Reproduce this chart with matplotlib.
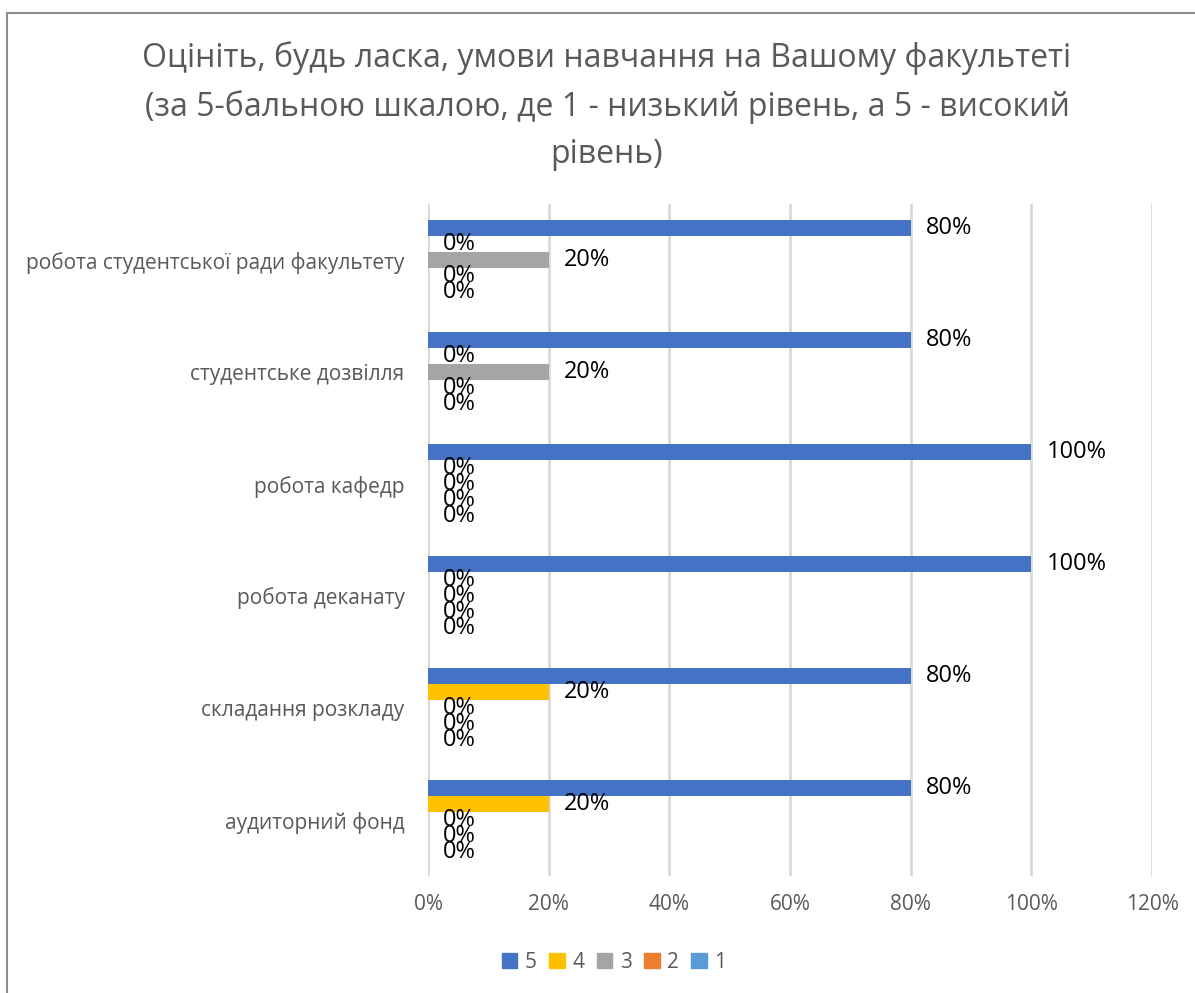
import numpy as np
import matplotlib.pyplot as plt
from matplotlib.lines import Line2D
from matplotlib.patches import Patch

plt.rcParams['font.family'] = ['Open Sans', 'DejaVu Sans']

# categories from bottom to top
categories = ['аудиторний фонд', 'складання розкладу', 'робота деканату',
              'робота кафедр', 'студентське дозвілля',
              'робота студентської ради факультету']
series_names = ['5', '4', '3', '2', '1']
colors = ['#4472C4', '#FFC000', '#A5A5A5', '#ED7D31', '#5B9BD5']

# share of answers per score, in %
score_5 = [80, 80, 100, 100, 80, 80]
score_4 = [20, 20, 0, 0, 0, 0]
score_3 = [0, 0, 0, 0, 20, 20]
score_2 = [0, 0, 0, 0, 0, 0]
score_1 = [0, 0, 0, 0, 0, 0]
values = [score_5, score_4, score_3, score_2, score_1]

xticks = [0, 20, 40, 60, 80, 100, 120]

fig = plt.figure(figsize=(11.95, 9.93), dpi=100)
ax = fig.add_axes([428 / 1195, 1 - 876 / 993, 724 / 1195, 672 / 993])

# chart area border (top and left visible)
fig.add_artist(Line2D([7 / 1195, 7 / 1195], [0, 1 - 13 / 993], color='#8c8c8c', lw=1.5))
fig.add_artist(Line2D([7 / 1195, 1], [1 - 13 / 993, 1 - 13 / 993], color='#8c8c8c', lw=1.5))

h = 1 / 7
y = np.arange(len(categories))
for j, (name, vals) in enumerate(zip(series_names, values)):
    ypos = y + (2 - j) * h
    ax.barh(ypos, vals, height=h, color=colors[j], zorder=3, label=name)
    for yy, v in zip(ypos, vals):
        ax.annotate(f'{v}%', (v, yy), xytext=(11, 0), textcoords='offset points',
                    va='center', ha='left', fontsize=17, color='black', zorder=4)

ax.set_xlim(0, 120)
ax.set_ylim(-0.5, len(categories) - 0.5)
ax.set_xticks(xticks)
ax.set_xticklabels([f'{t}%' for t in xticks], fontsize=15, color='#595959')
ax.set_yticks(y)
ax.set_yticklabels(categories, fontsize=15, color='#595959')
ax.tick_params(length=0, pad=13)
ax.tick_params(axis='y', pad=17)
ax.grid(axis='x', color='#d9d9d9', lw=2, zorder=0)
for s in ax.spines.values():
    s.set_visible(False)

fig.text(607 / 1195, 1 - 106 / 993,
         'Оцініть, будь ласка, умови навчання на Вашому факультеті\n'
         '(за 5-бальною шкалою, де 1 - низький рівень, а 5 - високий\n'
         'рівень)', ha='center', va='center', fontsize=23, color='#595959',
         linespacing=1.56)

handles = [Patch(color=c) for c in colors]
fig.legend(handles, series_names, loc='center', bbox_to_anchor=(614 / 1195, 1 - 962 / 993),
           ncol=5, frameon=False, fontsize=15, handlelength=0.75, handleheight=0.75,
           handletextpad=0.35, columnspacing=0.6, labelcolor='#595959')

fig.savefig('out.png', dpi=100)
